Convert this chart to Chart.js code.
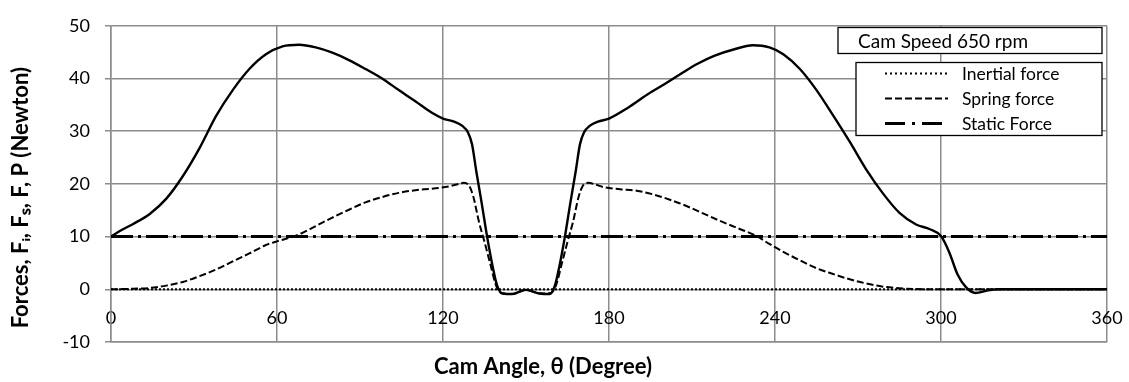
<!DOCTYPE html>
<html><head><meta charset="utf-8">
<script src="https://cdn.jsdelivr.net/npm/chart.js@4.4.1/dist/chart.umd.min.js"></script>
<style>html,body{margin:0;padding:0;background:#fff;overflow:hidden}</style>
</head><body>
<canvas id="c" width="1129" height="382"></canvas>
<script>
// ---------- data ----------
const speedLabel = 'Cam Speed 650 rpm';
const xTitleText = 'Cam Angle, θ (Degree)';
const yTitleText = 'Forces, Fᵢ, Fₛ, F, P (Newton)';
const xTickStep = 60;   // 0,60,...,360
const yTickStep = 10;   // -10..50

// total force P (solid line)
const pAngle = [0,4,8,14,20,26,32,38,44,50,56,62,68,74,80,86,92,98,104,110,116,120,124,127,129,130.5,132,134,136,138,139.5,141.5,145,150,155,158.5,160.5,162,164,166,168,169.5,171,173,176,180,187,194,200,206,212,218,225,232,238,243,249,255,261,267,273,279,285,291,296,300,303,306,309,312.5,317,321,330,345,360];
const pForce = [10,11.3,12.4,14.3,17.2,21.5,26.8,32.9,37.8,41.8,44.6,46.1,46.4,45.9,44.9,43.5,41.8,40.0,37.8,35.7,33.5,32.4,31.8,31.0,29.8,27.5,22.5,16.3,9.8,4.2,0.8,-0.8,-0.9,-0.1,-0.8,-0.9,0.8,4.2,9.8,16.3,22.5,27.5,29.8,31.0,31.8,32.4,34.5,37.0,38.9,40.9,42.8,44.3,45.5,46.3,45.9,44.6,41.8,37.8,33.0,28.0,22.7,18.2,14.5,12.3,11.4,10.1,7.0,2.8,0.4,-0.7,-0.2,0,0,0,0];

// spring force (dashed)
const sAngle = [0,8,14,20,26,32,38,44,50,56,60,67,74,80,86,92,98,104,110,116,122,125,127.5,129.5,131,133,135,137,139,141,145,150,155,159,161,163,165,167,169,170.5,172.5,175,178,184,190,196,202,208,214,220,226,233,238,243,249,255,261,267,273,279,285,291,297,300,330,360];
const sForce = [0,0.1,0.25,0.7,1.4,2.5,3.75,5.3,6.8,8.4,9.1,10.2,12.0,13.6,15.1,16.5,17.5,18.3,18.8,19.1,19.5,19.9,20.2,19.6,17.5,12.8,9.0,5.0,1.0,-0.7,-0.9,-0.1,-0.8,-0.7,1.0,5.0,9.0,12.8,17.5,19.6,20.2,19.9,19.4,19.0,18.7,18.0,17.0,15.8,14.4,13.0,11.7,10.2,8.6,7.1,5.5,4.0,2.9,1.9,1.1,0.5,0.2,0.05,0,0,0,0];

// inertial force (dotted) and static force (dash-dot)
const iAngle = [0,360];
const iForce = [0,0];
const fAngle = [0,360];
const fForce = [10,10];

const legendNames = ['Inertial force','Spring force','Static Force'];

// ---------- chart ----------
const pts = (xs, ys) => xs.map((x, i) => ({x, y: ys[i]}));
const gridColor = '#8c8c8c';
const FONT = 'Lato';
const EM = '\u2003', EN = '\u2002';

const boxPlugin = {
  id: 'boxes',
  afterDatasetsDraw(chart) {
    const ctx = chart.ctx;
    const ca = chart.chartArea;
    ctx.save();
    // speed caption box
    const bx = ca.right - 269, by = 27.5, bw = 264, bh = 26;
    ctx.fillStyle = '#fff';
    ctx.fillRect(bx, by, bw, bh);
    ctx.strokeStyle = '#000'; ctx.lineWidth = 1.3;
    ctx.strokeRect(bx, by, bw, bh);
    ctx.fillStyle = '#000';
    ctx.font = '19px ' + FONT;
    ctx.textBaseline = 'middle';
    ctx.textAlign = 'left';
    ctx.fillText(speedLabel, bx + 20, by + bh / 2 + 1);
    // legend box
    const lx = ca.right - 251, ly = 62.5, lw = 246, lh = 73;
    ctx.fillStyle = '#fff';
    ctx.fillRect(lx, ly, lw, lh);
    ctx.strokeRect(lx, ly, lw, lh);
    ctx.font = '17.5px ' + FONT;
    const dsets = chart.data.datasets;
    legendNames.forEach((name, i) => {
      const ds = dsets.find(d => d.label === name);
      const y = ly + 11 + i * 25;
      ctx.save();
      ctx.strokeStyle = ds.borderColor;
      ctx.lineWidth = ds.borderWidth;
      ctx.setLineDash(ds.legendDash || ds.borderDash || []);
      ctx.beginPath();
      ctx.moveTo(lx + 29, y);
      ctx.lineTo(lx + 92, y);
      ctx.stroke();
      ctx.restore();
      ctx.fillStyle = '#000';
      ctx.fillText(name, lx + 106, y + 1);
    });
    ctx.restore();
  }
};

new Chart(document.getElementById('c'), {
  type: 'line',
  data: {
    datasets: [
      {label: 'P', data: pts(pAngle, pForce), borderColor: '#000', borderWidth: 2.4, pointRadius: 0, cubicInterpolationMode: 'monotone', fill: false},
      {label: 'Spring force', data: pts(sAngle, sForce), borderColor: '#000', borderWidth: 2, borderDash: [7, 3], pointRadius: 0, cubicInterpolationMode: 'monotone', fill: false},
      {label: 'Static Force', data: pts(fAngle, fForce), borderColor: '#000', borderWidth: 3, borderDash: [22, 5, 3, 5], legendDash: [20, 7, 3, 7], pointRadius: 0, fill: false},
      {label: 'Inertial force', data: pts(iAngle, iForce), borderColor: '#000', borderWidth: 2, borderDash: [2, 2], legendDash: [2, 3], pointRadius: 0, fill: false}
    ]
  },
  options: {
    responsive: false,
    animation: false,
    devicePixelRatio: 1,
    layout: {padding: {top: 16, right: 22, left: 0, bottom: 0}},
    plugins: {legend: {display: false}, tooltip: {enabled: false}},
    scales: {
      x: {
        type: 'linear', position: 'bottom', min: 0, max: 360,
        ticks: {display: false, stepSize: xTickStep},
        grid: {color: gridColor, lineWidth: 1.5, drawTicks: false},
        border: {color: gridColor, width: 1.5},
        title: {display: true, text: xTitleText + EM.repeat(8), color: '#000',
                font: {family: FONT, size: 22, weight: 'bold'}, padding: {top: 10, bottom: 2}},
        afterFit: s => { s.height = 40; s.paddingLeft = 0; s.paddingRight = 0; }
      },
      xLabels: {
        type: 'linear', axis: 'x', position: {y: 0}, min: 0, max: 360,
        ticks: {stepSize: xTickStep, color: '#000', padding: 18, font: {family: FONT, size: 18}},
        grid: {display: false, drawTicks: false},
        border: {display: false},
        afterFit: s => { s.paddingLeft = 0; s.paddingRight = 0; }
      },
      y: {
        type: 'linear', position: 'left', min: -10, max: 50,
        ticks: {stepSize: yTickStep, color: '#000', padding: 15, font: {family: FONT, size: 18}},
        grid: {color: gridColor, lineWidth: 1.5, tickLength: 6},
        border: {color: gridColor, width: 1.5},
        title: {display: true, text: yTitleText + EM + EN, color: '#000',
                font: {family: FONT, size: 22, weight: 'bold'}, padding: {top: 8, bottom: 0}},
        afterFit: s => { s.width = 111; }
      }
    }
  },
  plugins: [boxPlugin]
});
</script>
</body></html>
